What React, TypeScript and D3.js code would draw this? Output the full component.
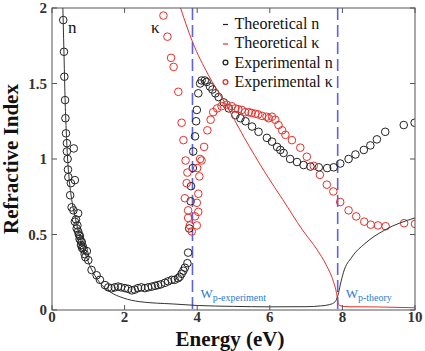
import React, { useEffect, useRef } from 'react';
import * as d3 from 'd3';

// theoretical curves (energy in eV, index)
const theoryN = [
  [0.30, 2.0], [0.32, 1.8], [0.34, 1.6], [0.36, 1.4], [0.39, 1.2], [0.43, 1.0],
  [0.48, 0.85], [0.55, 0.72], [0.65, 0.6], [0.75, 0.5], [0.85, 0.42], [0.95, 0.35],
  [1.05, 0.29], [1.32, 0.18], [1.6, 0.12], [1.96, 0.08], [2.42, 0.055], [3.33, 0.04],
  [4.0, 0.03], [5.0, 0.024], [6.0, 0.021], [7.0, 0.022], [7.4, 0.027], [7.65, 0.036],
  [7.8, 0.055], [7.88, 0.1], [7.94, 0.165], [8.03, 0.25], [8.26, 0.35], [8.62, 0.44],
  [9.17, 0.53], [10, 0.61],
];

const theoryK = [
  [3.5, 2.03], [3.88, 1.77], [4.3, 1.56], [4.77, 1.37], [5.3, 1.14], [5.87, 0.91],
  [6.36, 0.73], [6.9, 0.53], [7.3, 0.4], [7.55, 0.3], [7.75, 0.19], [7.84, 0.11],
  [7.88, 0.05], [7.92, 0.03], [8.1, 0.022], [9, 0.02], [10, 0.015],
];

// measured points
const expN = [
  [0.31, 1.92], [0.33, 1.71], [0.34, 1.545], [0.36, 1.39], [0.37, 1.27], [0.385, 1.17],
  [0.41, 1.105], [0.6, 1.07], [0.41, 1.05], [0.43, 1.0], [0.44, 0.93], [0.45, 0.88],
  [0.52, 0.84], [0.63, 0.86], [0.5, 0.76], [0.54, 0.68], [0.59, 0.66], [0.72, 0.64],
  [0.63, 0.585], [0.66, 0.6], [0.68, 0.54], [0.7, 0.56], [0.72, 0.52], [0.74, 0.5],
  [0.76, 0.47], [0.77, 0.49], [0.79, 0.46], [0.8, 0.43], [0.82, 0.45], [0.83, 0.41],
  [0.85, 0.42], [0.87, 0.4], [0.9, 0.37], [0.92, 0.35], [0.96, 0.39], [1.0, 0.33],
  [1.09, 0.265], [1.23, 0.23], [1.32, 0.2], [1.46, 0.165], [1.55, 0.15], [1.64, 0.144],
  [1.73, 0.15], [1.82, 0.155], [1.9, 0.15], [2.01, 0.145], [2.1, 0.14], [2.2, 0.13],
  [2.28, 0.135], [2.37, 0.145], [2.46, 0.15], [2.56, 0.145], [2.65, 0.15], [2.75, 0.155],
  [2.84, 0.16], [2.92, 0.165], [3.0, 0.17], [3.11, 0.18], [3.2, 0.19], [3.3, 0.2],
  [3.38, 0.2], [3.47, 0.21], [3.52, 0.22], [3.57, 0.24], [3.62, 0.26], [3.66, 0.28],
  [3.73, 0.31], [3.75, 0.38],
  [3.78, 0.54], [3.82, 0.72], [3.83, 0.82], [3.88, 0.94], [3.89, 1.05], [3.94, 1.15],
  [3.97, 1.25], [3.99, 1.325], [4.03, 1.435], [4.08, 1.5], [4.12, 1.52], [4.21, 1.52],
  [4.26, 1.51], [4.35, 1.48], [4.42, 1.46], [4.5, 1.435], [4.59, 1.41], [4.73, 1.375],
  [4.87, 1.335], [5.05, 1.29], [5.19, 1.27], [5.33, 1.25], [5.51, 1.215], [5.69, 1.18],
  [5.92, 1.14], [6.06, 1.115], [6.2, 1.08], [6.29, 1.06], [6.38, 1.04], [6.56, 1.0],
  [6.75, 0.98], [6.93, 0.96], [7.12, 0.95], [7.35, 0.945], [7.58, 0.94], [7.76, 0.945],
  [7.94, 0.97], [8.17, 1.0], [8.36, 1.03], [8.59, 1.06], [8.77, 1.09], [8.95, 1.13],
  [9.18, 1.18], [9.69, 1.225], [9.99, 1.24],
];

const expK = [
  [3.07, 1.95], [3.18, 1.81], [3.28, 1.67], [3.35, 1.61], [3.48, 1.445], [3.57, 1.24],
  [3.62, 1.125], [3.68, 0.99], [3.73, 0.91], [3.71, 0.84], [3.66, 0.74], [3.75, 0.66],
  [3.75, 0.61], [3.8, 0.56], [3.85, 0.52], [4.06, 0.885], [3.99, 0.71], [4.03, 0.65],
  [3.94, 0.62], [3.99, 0.56], [4.03, 0.77], [4.0, 0.94], [4.08, 1.0],
  [4.12, 0.99], [4.19, 1.08], [4.28, 1.19], [4.37, 1.26], [4.44, 1.31], [4.55, 1.335],
  [4.67, 1.35], [4.81, 1.36], [4.95, 1.35], [5.05, 1.335], [5.13, 1.33], [5.23, 1.325],
  [5.32, 1.31], [5.42, 1.31], [5.5, 1.305], [5.6, 1.3], [5.68, 1.295], [5.79, 1.285],
  [5.91, 1.28], [5.97, 1.27], [6.06, 1.28], [6.15, 1.26], [6.24, 1.225], [6.34, 1.19],
  [6.43, 1.16], [6.61, 1.125], [6.84, 1.075], [7.02, 1.015], [7.21, 0.955], [7.38, 0.895],
  [7.57, 0.83], [7.75, 0.785], [7.94, 0.715], [8.17, 0.66], [8.38, 0.62], [8.6, 0.585],
  [8.78, 0.565], [8.98, 0.56], [9.19, 0.555], [9.7, 0.575], [10.0, 0.57],
];

const plasmaLines = [
  { e: 3.87, label: 'p-experiment' },
  { e: 7.87, label: 'p-theory' },
];

const xTicks = [0, 2, 4, 6, 8, 10];
const yTicks = [0, 0.5, 1, 1.5, 2];

const legendItems = [
  { label: 'Theoretical n', color: '#222', kind: 'line' },
  { label: 'Theoretical κ', color: '#e8302a', kind: 'line' },
  { label: 'Experimental n', color: '#222', kind: 'dot' },
  { label: 'Experimental κ', color: '#e8302a', kind: 'dot' },
];

const SERIF = "'Liberation Serif', 'DejaVu Serif', serif";

const App = () => {
  const ref = useRef(null);

  useEffect(() => {
    const W = 425, H = 351;
    const left = 52, right = 415, top = 8, bottom = 310;

    const root = d3.select(ref.current);
    root.selectAll('*').remove();

    const svg = root.append('svg')
      .attr('width', W)
      .attr('height', H)
      .style('position', 'absolute')
      .style('left', 0)
      .style('top', 0)
      .style('background', '#fff')
      .style('font-family', SERIF);

    const x = d3.scaleLinear().domain([0, 10]).range([left, right]);
    const y = d3.scaleLinear().domain([0, 2]).range([bottom, top]);

    svg.append('clipPath').attr('id', 'plotclip')
      .append('rect')
      .attr('x', left).attr('y', top)
      .attr('width', right - left).attr('height', bottom - top);

    const plot = svg.append('g').attr('clip-path', 'url(#plotclip)');

    // plasma frequency markers
    plot.selectAll('line.wp')
      .data(plasmaLines)
      .enter()
      .append('line')
      .attr('x1', d => x(d.e)).attr('x2', d => x(d.e))
      .attr('y1', y(2)).attr('y2', y(0))
      .attr('stroke', '#5b63e0')
      .attr('stroke-width', 1.6)
      .attr('stroke-dasharray', '12,5');

    const line = d3.line()
      .x(d => x(d[0]))
      .y(d => y(d[1]))
      .curve(d3.curveMonotoneX);

    plot.append('g')
      .selectAll('circle')
      .data(expN)
      .enter()
      .append('circle')
      .attr('cx', d => x(d[0]))
      .attr('cy', d => y(d[1]))
      .attr('r', 3.8)
      .attr('fill', 'none')
      .attr('stroke', '#222')
      .attr('stroke-width', 1);

    plot.append('g')
      .selectAll('circle')
      .data(expK)
      .enter()
      .append('circle')
      .attr('cx', d => x(d[0]))
      .attr('cy', d => y(d[1]))
      .attr('r', 3.8)
      .attr('fill', 'none')
      .attr('stroke', '#e8302a')
      .attr('stroke-width', 1);

    plot.append('path')
      .datum(theoryN)
      .attr('d', line)
      .attr('fill', 'none')
      .attr('stroke', '#333')
      .attr('stroke-width', 1);

    plot.append('path')
      .datum(theoryK)
      .attr('d', line)
      .attr('fill', 'none')
      .attr('stroke', '#e8302a')
      .attr('stroke-width', 1);

    // frame with inward ticks on all sides
    const axis = svg.append('g').attr('stroke', '#555').attr('stroke-width', 1);
    axis.append('rect')
      .attr('x', left).attr('y', top)
      .attr('width', right - left).attr('height', bottom - top)
      .attr('fill', 'none');
    xTicks.forEach(t => {
      axis.append('line').attr('x1', x(t)).attr('x2', x(t)).attr('y1', bottom).attr('y2', bottom - 5);
      axis.append('line').attr('x1', x(t)).attr('x2', x(t)).attr('y1', top).attr('y2', top + 5);
    });
    yTicks.forEach(t => {
      axis.append('line').attr('x1', left).attr('x2', left + 5).attr('y1', y(t)).attr('y2', y(t));
      axis.append('line').attr('x1', right).attr('x2', right - 5).attr('y1', y(t)).attr('y2', y(t));
    });

    svg.append('g')
      .selectAll('text')
      .data(xTicks)
      .enter()
      .append('text')
      .attr('x', d => x(d))
      .attr('y', 322)
      .attr('text-anchor', 'middle')
      .style('font-family', SERIF)
      .attr('font-weight', 'bold')
      .attr('font-size', 15)
      .attr('fill', '#333')
      .text(d => d);

    svg.append('g')
      .selectAll('text')
      .data(yTicks)
      .enter()
      .append('text')
      .attr('x', left - 5)
      .attr('y', d => y(d))
      .attr('dy', '0.35em')
      .attr('text-anchor', 'end')
      .style('font-family', SERIF)
      .attr('font-weight', 'bold')
      .attr('font-size', 15)
      .attr('fill', '#333')
      .text(d => d);

    svg.append('text')
      .attr('x', 230)
      .attr('y', 345.5)
      .attr('text-anchor', 'middle')
      .style('font-family', SERIF)
      .attr('font-weight', 'bold')
      .attr('font-size', 21)
      .attr('fill', '#111')
      .text('Energy (eV)');

    svg.append('text')
      .attr('transform', `translate(18,${(top + bottom) / 2}) rotate(-90)`)
      .attr('text-anchor', 'middle')
      .style('font-family', SERIF)
      .attr('font-weight', 'bold')
      .attr('font-size', 21)
      .attr('fill', '#111')
      .text('Refractive Index');

    // curve labels
    svg.append('text')
      .attr('x', 68).attr('y', 33)
      .style('font-family', SERIF).attr('font-size', 17).attr('fill', '#111')
      .text('n');
    svg.append('text')
      .attr('x', 151).attr('y', 33)
      .style('font-family', SERIF).attr('font-size', 17).attr('fill', '#111')
      .text('κ');

    // plasma frequency labels
    plasmaLines.forEach(d => {
      const t = svg.append('text')
        .attr('x', x(d.e) + 8)
        .attr('y', 298)
        .style('font-family', SERIF)
        .attr('font-size', 13)
        .attr('fill', '#2b7bd0');
      t.append('tspan').text('W');
      t.append('tspan').attr('font-size', 10).attr('dy', 3).text(d.label);
    });

    // legend
    const legend = svg.append('g');
    legendItems.forEach((d, i) => {
      const cy = 23.5 + i * 19.5;
      if (d.kind === 'line') {
        legend.append('line')
          .attr('x1', 223).attr('x2', 228)
          .attr('y1', cy + 1).attr('y2', cy + 1)
          .attr('stroke', d.color).attr('stroke-width', 1.2);
      } else {
        legend.append('circle')
          .attr('cx', 225.5).attr('cy', cy)
          .attr('r', 2.4)
          .attr('fill', 'none')
          .attr('stroke', d.color).attr('stroke-width', 1.3);
      }
      legend.append('text')
        .attr('x', 234.5).attr('y', cy + 5)
        .style('font-family', SERIF)
        .attr('font-size', 16)
        .attr('fill', '#111')
        .text(d.label);
    });
  }, []);

  return <div ref={ref} />;
};

export default App;
